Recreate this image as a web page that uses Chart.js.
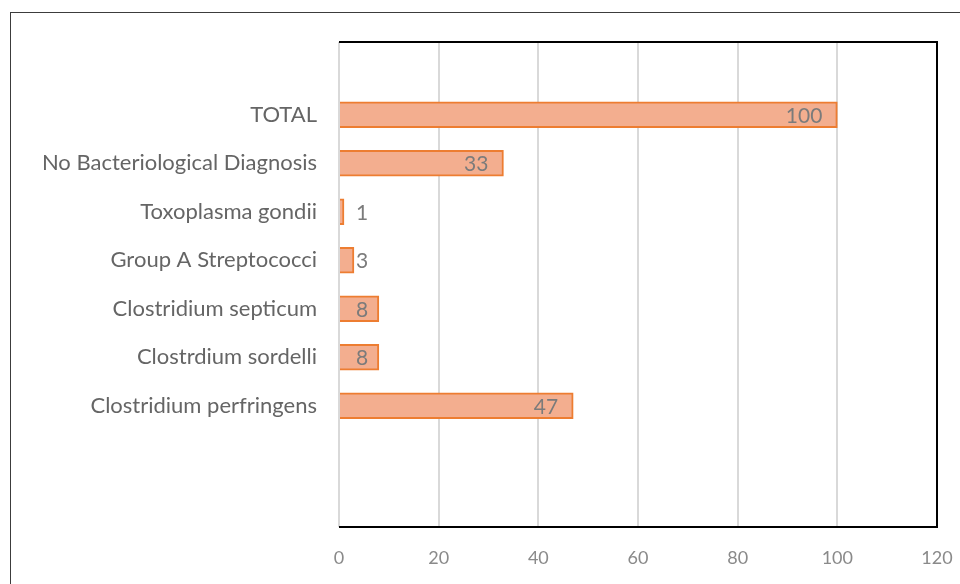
<!DOCTYPE html>
<html lang="en">
<head>
<meta charset="UTF-8">
<title>Diagnosis chart</title>
<script src="https://cdn.jsdelivr.net/npm/chart.js"></script>
<style>
    html, body {
        margin: 0;
        padding: 0;
        width: 960px;
        height: 584px;
        overflow: hidden;
        background: #ffffff;
    }
    .frame {
        position: absolute;
        left: 10px;
        top: 12px;
        width: 1000px;
        height: 1000px;
        border: 1px solid #3c3c3c;
        box-shadow: 1px 1px 0 #d8d8d8;
    }
    #chart {
        position: absolute;
        left: 0;
        top: 0;
    }
</style>
</head>
<body>
<div class="frame"></div>
<canvas id="chart" width="960" height="584"></canvas>

<script>
// categories, top to bottom (empty slots kept as in the original)
const categories = [
    '',
    'TOTAL',
    'No Bacteriological Diagnosis',
    'Toxoplasma gondii',
    'Group A Streptococci',
    'Clostridium septicum',
    'Clostrdium sordelli',
    'Clostridium perfringens',
    '',
    ''
];
const counts = [null, 100, 33, 1, 3, 8, 8, 47, null, null];
const xTicks = [0, 20, 40, 60, 80, 100, 120];

const FONT = 'Lato';

// bar value labels, Excel "inside end" style
const valueLabels = {
    id: 'valueLabels',
    afterDatasetsDraw(chart) {
        const ctx = chart.ctx;
        const area = chart.chartArea;
        const meta = chart.getDatasetMeta(0);
        ctx.save();
        ctx.font = '21px ' + FONT;
        ctx.fillStyle = '#7b7b7b';
        ctx.textBaseline = 'middle';
        ctx.textAlign = 'left';
        meta.data.forEach((bar, i) => {
            const v = counts[i];
            if (v === null) return;
            const txt = String(v);
            const w = ctx.measureText(txt).width;
            let left = bar.x - 15 - w;
            if (left < area.left + 17) left = area.left + 17;
            ctx.fillText(txt, left, bar.y + 1);
        });
        ctx.restore();
    }
};

// black border on top, right and bottom of the plot
const plotFrame = {
    id: 'plotFrame',
    afterDraw(chart) {
        const ctx = chart.ctx;
        const a = chart.chartArea;
        ctx.save();
        ctx.strokeStyle = '#000000';
        ctx.lineWidth = 2;
        ctx.beginPath();
        ctx.moveTo(a.left, a.top);
        ctx.lineTo(a.right, a.top);
        ctx.lineTo(a.right, a.bottom);
        ctx.lineTo(a.left, a.bottom);
        ctx.stroke();
        ctx.restore();
    }
};

new Chart(document.getElementById('chart'), {
    type: 'bar',
    data: {
        labels: categories,
        datasets: [{
            data: counts,
            backgroundColor: '#f3ae8f',
            borderColor: '#ed7d31',
            borderWidth: 2,
            borderSkipped: 'start',
            barThickness: 26
        }]
    },
    options: {
        indexAxis: 'y',
        responsive: false,
        animation: false,
        layout: { padding: { top: 42, right: 23, bottom: 0, left: 0 } },
        plugins: {
            legend: { display: false },
            tooltip: { enabled: false }
        },
        scales: {
            x: {
                min: 0,
                max: 120,
                afterBuildTicks(scale) {
                    scale.ticks = xTicks.map(v => ({ value: v }));
                },
                afterFit(scale) {
                    scale.height = 57;
                    scale.paddingLeft = 0;
                    scale.paddingRight = 0;
                },
                grid: { color: '#d9d9d9', lineWidth: 2, drawTicks: false },
                border: { display: false },
                ticks: {
                    padding: 20,
                    color: '#8a8a8a',
                    font: { family: FONT, size: 18 }
                }
            },
            y: {
                afterFit(scale) { scale.width = 339; },
                grid: { display: false, drawTicks: false },
                border: { display: false },
                ticks: {
                    padding: 22,
                    autoSkip: false,
                    color: '#656565',
                    font: { family: FONT, size: 22 }
                }
            }
        }
    },
    plugins: [valueLabels, plotFrame]
});
</script>
</body>
</html>
